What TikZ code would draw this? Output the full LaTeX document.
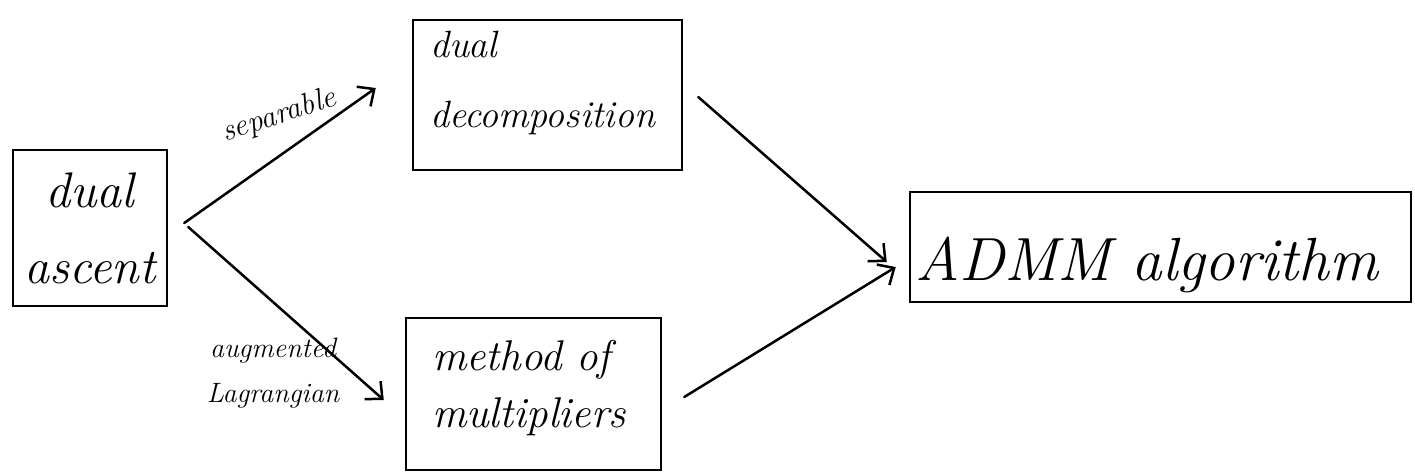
\documentclass[tikz,border=0pt]{standalone}
\usetikzlibrary{arrows.meta,calc}
\begin{document}
\begin{tikzpicture}[x=1pt,y=-1pt,
  box/.style={draw, rectangle, line width=2.5pt, inner ysep=0pt},
  flow/.style={line width=2.5pt, line cap=round,
    -{Straight Barb[length=13pt,width=24pt,line width=2.5pt]}},
  edgelabel/.style={inner sep=0pt}
]
\useasboundingbox (0,0) rectangle (1415,474);

% boxes (centres given in pixel coordinates, y growing downwards)
\node[box, text width=154pt, inner xsep=0pt, align=center,
      text height=57pt, text depth=99pt,
      font=\itshape\fontsize{50}{76}\selectfont] (da) at (90,228) {dual\\ascent};
\node[box, text width=235pt, inner xsep=17pt, align=left,
      text height=37pt, text depth=113pt,
      font=\itshape\fontsize{38}{70}\selectfont] (dd) at (547.5,95) {dual\\decomposition};
\node[box, text width=203pt, inner xsep=26pt, align=left,
      text height=52pt, text depth=100pt,
      font=\itshape\fontsize{43}{57}\selectfont] (mom) at (533.5,394) {method of\\multipliers};
\node[box, text width=491pt, inner xsep=5pt, align=left,
      text height=88pt, text depth=22pt,
      font=\itshape\fontsize{61}{61}\selectfont] (admm) at (1160.5,247) {ADMM algorithm};

% connectors
\draw[flow] ($(da.east)+(16,-5)$) -- ($(dd.west)+(-36,-7)$);
\draw[flow] ($(da.east)+(20,-1)$) -- ($(mom.west)+(-21,6)$);
\draw[flow] ($(dd.east)+(15,2)$) -- ($(admm.west)+(-22,15)$);
\draw[flow] ($(mom.east)+(22,3)$) -- ($(admm.west)+(-13,20)$);

% edge labels
\node[edgelabel, rotate=18, font=\itshape\fontsize{31}{31}\selectfont] (sep) at (279,116) {separable};
\node[edgelabel, align=center, font=\itshape\fontsize{28}{45}\selectfont] (aug) at (273,373) {augmented\\Lagrangian};
\end{tikzpicture}
\end{document}
